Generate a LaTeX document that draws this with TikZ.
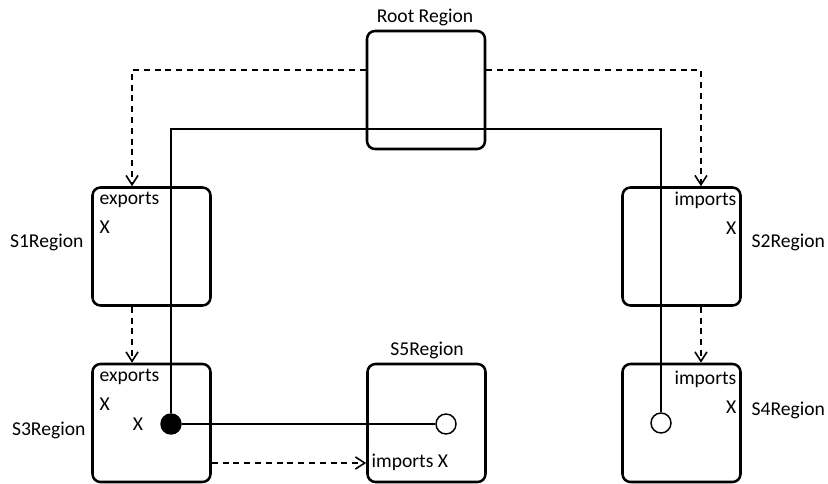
\documentclass[tikz,border=0pt]{standalone}
\usepackage{fontspec}
\setmainfont{Carlito}
\usepackage{xcolor}
\usetikzlibrary{arrows.meta,positioning}

\begin{document}
\begin{tikzpicture}[
  x=0.75pt, y=-0.75pt,
  font=\fontsize{14.7}{16}\selectfont,
  region/.style={
    draw,
    line width=1.9pt,
    rounded corners=6pt,
    minimum width=88.5pt,
    minimum height=88.5pt,
    inner sep=0pt
  },
  flow/.style={line width=1.2pt, dash pattern=on 4.5pt off 3.6pt,
    -{Straight Barb[length=7pt,width=9pt]}},
  wire/.style={line width=1.3pt},
  port/.style={circle, draw, line width=1.1pt, minimum size=15pt, inner sep=0pt, fill=white},
  note/.style={inner sep=1pt}
]
\useasboundingbox (0,0) rectangle (828,484);

% Regions
\node[region] (root) at (426,90) {};
\node[region] (s1) at (151.5,246.5) {};
\node[region] (s2) at (681.5,246.5) {};
\node[region] (s3) at (151.5,423) {};
\node[region] (s5) at (426.5,423) {};
\node[region] (s4) at (681.5,423) {};

% Region names
\node[note] (roottag) at (425,17) {Root Region};
\node[note, anchor=east] (s1tag) at (85,242) {S1Region};
\node[note, anchor=west] (s2tag) at (750,242) {S2Region};
\node[note, anchor=east] (s3tag) at (87,430) {S3Region};
\node[note] (s5tag) at (427,350) {S5Region};
\node[note, anchor=west] (s4tag) at (750,410) {S4Region};

% Contents
\node[note, anchor=west] (s1exp) at (98,200) {exports};
\node[note, anchor=west] (s1x) at (98,227) {X};
\node[note, anchor=east] (s2imp) at (738,200) {imports};
\node[note, anchor=east] (s2x) at (738,228) {X};
\node[note, anchor=west] (s3exp) at (98,377) {exports};
\node[note, anchor=west] (s3x) at (98,404) {X};
\node[note] (s3y) at (138,424) {X};
\node[note, anchor=west] (s5imp) at (370,462) {imports X};
\node[note, anchor=east] (s4imp) at (738,379) {imports};
\node[note, anchor=east] (s4x) at (738,407) {X};

% Ports
\node[port, fill=black] (dot3) at (171,424) {};
\node[port] (dot5) at (446,424) {};
\node[port] (dot4) at (661,423) {};
\coordinate (link) at (426,129);

% Solid links
\draw[wire] (dot3) |- (link) -| (dot4);
\draw[wire] (dot3) -- (dot5);

% Dashed flows
\draw[flow] ([yshift=15pt]root.west) -| ([xshift=-14.6pt]s1.north);
\draw[flow] ([yshift=15pt]root.east) -| ([xshift=14.6pt]s2.north);
\draw[flow] ([xshift=-14.6pt]s1.south) -- ([xshift=-14.6pt]s3.north);
\draw[flow] ([xshift=14.6pt]s2.south) -- ([xshift=14.6pt]s4.north);
\draw[flow] ([yshift=-30pt]s3.east) -- ([yshift=-30pt]s5.west);

\end{tikzpicture}
\end{document}
